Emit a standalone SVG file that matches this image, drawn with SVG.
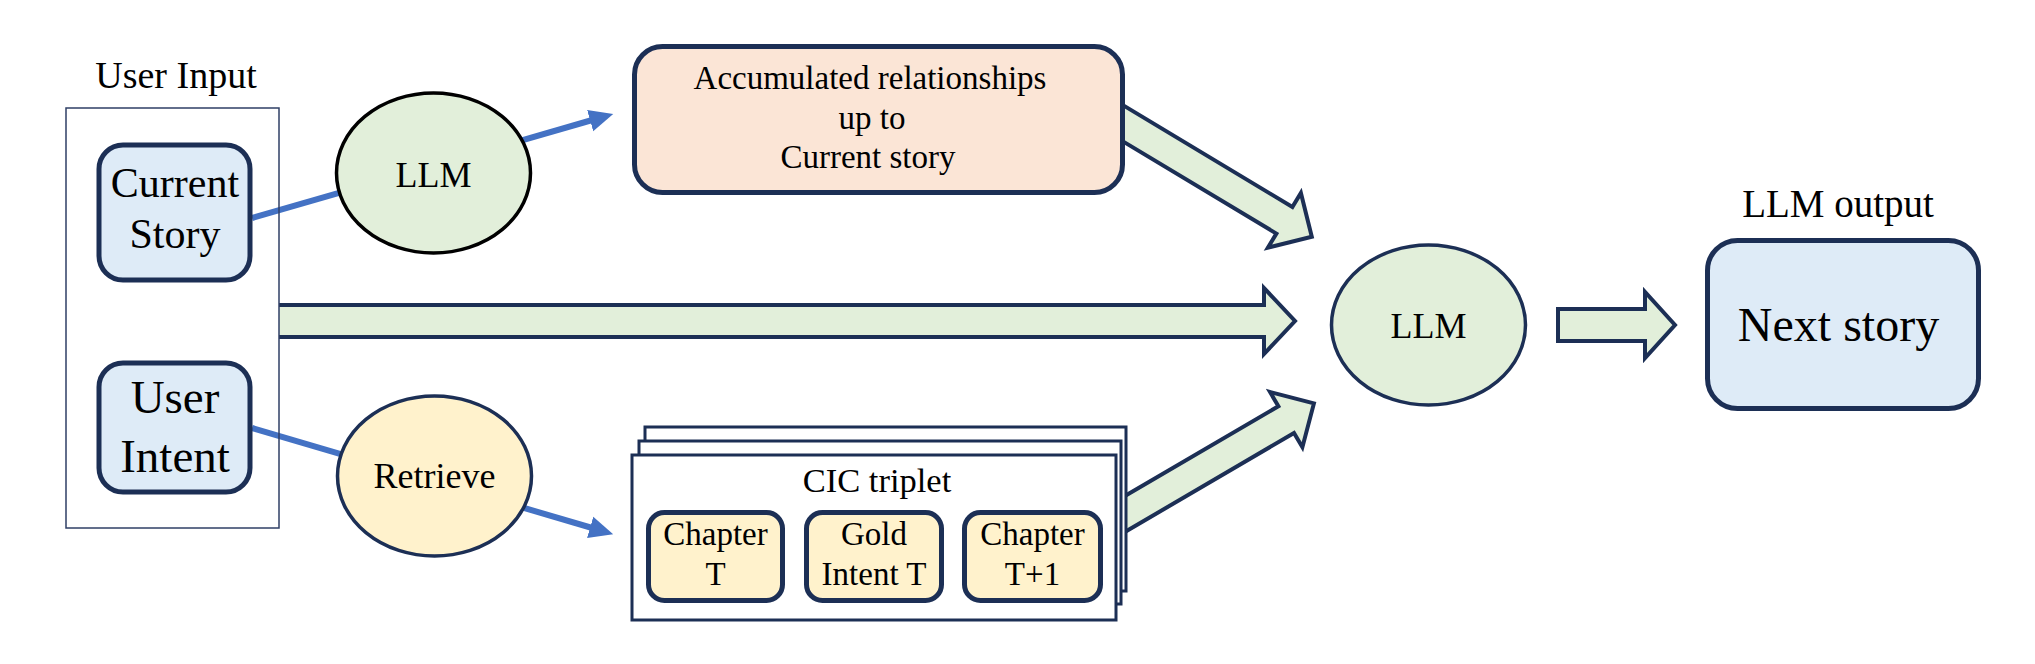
<svg xmlns="http://www.w3.org/2000/svg" width="2035" height="664" viewBox="0 0 2035 664">
  <style>
    text { font-family: "Liberation Serif", "Times New Roman", serif; fill: #000; text-anchor: middle; }
    .box { stroke: #1C2F55; stroke-width: 5; }
    .blue { fill: #DEEBF7; }
    .peach { fill: #FBE5D6; }
    .yellow { fill: #FFF2CC; }
    .green { fill: #E2EFDA; }
    .stack { fill: #FFFFFF; stroke: #1C2F55; stroke-width: 3; }
    .ell { stroke: #1C2F55; stroke-width: 3.5; }
    .blk { fill: #E2EFDA; stroke: #1C2F55; stroke-width: 4; stroke-linejoin: miter; }
    .link { stroke: #4472C4; stroke-width: 6; fill: none; }
  </style>
  <defs>
    <marker id="bluehead" markerUnits="userSpaceOnUse" markerWidth="26" markerHeight="26" viewBox="0 0 26 26" refX="4" refY="13" orient="auto">
      <path d="M0,2 L24,13 L0,24 Z" fill="#4472C4"/>
    </marker>
  </defs>

  <!-- connectors -->
  <g id="connectors">
    <line class="link" x1="252" y1="218" x2="594" y2="119.5" marker-end="url(#bluehead)"/>
    <line class="link" x1="252" y1="428" x2="594" y2="528.5" marker-end="url(#bluehead)"/>
    <line class="link" x1="785" y1="561" x2="804" y2="561" stroke-width="7"/>
    <line class="link" x1="944" y1="561" x2="962" y2="561" stroke-width="7"/>
    <path class="blk" d="M1120,103.4 L1292.4,207 L1300.9,192.9 L1311.8,236.8 L1267.9,247.7 L1276.4,233.6 L1120,139.6"/>
    <path class="blk" d="M279,305 L1264,305 L1264,288 L1295,321 L1264,354 L1264,337 L279,337"/>
    <path class="blk" d="M1124,496.5 L1278.4,406.2 L1270,392 L1313.9,403.4 L1302.4,447.2 L1294,433 L1124,532.5"/>
    <path class="blk" d="M1558,309 L1645,309 L1645,292 L1675,325 L1645,358 L1645,341 L1558,341 Z"/>
  </g>

  <g id="user-input">
    <text x="176" y="88" font-size="38">User Input</text>
    <rect x="66" y="108" width="213" height="420" fill="none" stroke="#2F3F66" stroke-width="1.5"/>
  </g>

  <g id="current-story">
    <rect class="box blue" x="99" y="145" width="151" height="135" rx="24"/>
    <text x="175" y="197" font-size="42">Current</text>
    <text x="175" y="248" font-size="42">Story</text>
  </g>

  <g id="user-intent">
    <rect class="box blue" x="99" y="363" width="151" height="129" rx="24"/>
    <text x="175" y="413" font-size="47">User</text>
    <text x="175" y="472" font-size="47">Intent</text>
  </g>

  <g id="llm1">
    <ellipse class="green" cx="433.5" cy="173" rx="97" ry="80" stroke="#000" stroke-width="3.5"/>
    <text x="433.5" y="187" font-size="36">LLM</text>
  </g>

  <g id="retrieve">
    <ellipse class="ell yellow" cx="434.5" cy="476" rx="97" ry="80"/>
    <text x="434.5" y="488" font-size="36">Retrieve</text>
  </g>

  <g id="accumulated">
    <rect class="box peach" x="634.5" y="46.5" width="488" height="146" rx="28"/>
    <text x="870" y="89" font-size="33">Accumulated relationships</text>
    <text x="872" y="129" font-size="33">up to</text>
    <text x="868" y="168" font-size="33">Current story</text>
  </g>

  <g id="cic-triplet">
    <rect class="stack" x="645" y="427" width="481" height="164"/>
    <rect class="stack" x="639" y="441" width="482" height="163"/>
    <rect class="stack" x="632" y="455" width="484" height="165"/>
    <text x="877" y="492" font-size="34.5">CIC triplet</text>
    <g id="chapter-t">
      <rect class="box yellow" x="648.5" y="512.5" width="134" height="88" rx="16"/>
      <text x="715.5" y="545" font-size="33">Chapter</text>
      <text x="715.5" y="585" font-size="33">T</text>
    </g>
    <g id="gold-intent-t">
      <rect class="box yellow" x="806.5" y="512.5" width="135" height="88" rx="16"/>
      <text x="874" y="545" font-size="33">Gold</text>
      <text x="874" y="585" font-size="33">Intent T</text>
    </g>
    <g id="chapter-t1">
      <rect class="box yellow" x="964.5" y="512.5" width="136" height="88" rx="16"/>
      <text x="1032.5" y="545" font-size="33">Chapter</text>
      <text x="1032.5" y="585" font-size="33">T+1</text>
    </g>
  </g>

  <g id="llm2">
    <ellipse class="ell green" cx="1428.5" cy="325" rx="97" ry="80"/>
    <text x="1428.5" y="338" font-size="36">LLM</text>
  </g>

  <g id="next-story">
    <text x="1838" y="217" font-size="39">LLM output</text>
    <rect class="box blue" x="1707.5" y="240.5" width="271" height="168" rx="30"/>
    <text x="1838.5" y="341" font-size="48">Next story</text>
  </g>
</svg>
